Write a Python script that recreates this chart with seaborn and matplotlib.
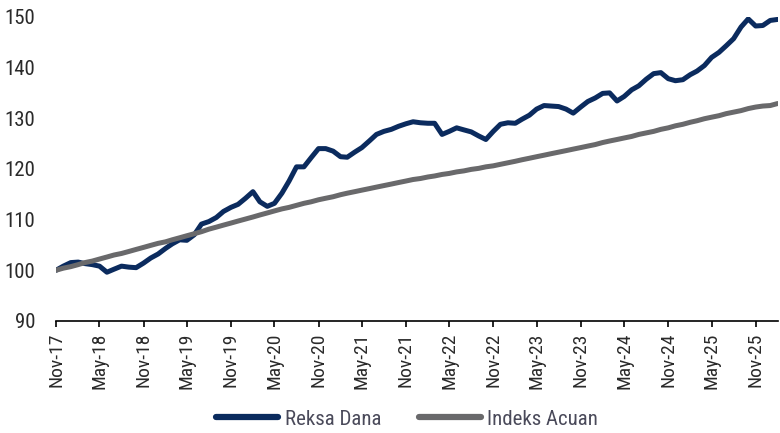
import pandas as pd
import matplotlib.pyplot as plt
import matplotlib.dates as mdates
from matplotlib import font_manager
import seaborn as sns

# data: monthly index values, Nov-17 .. Feb-26
start_month = '2017-11-01'
reksa_dana = [
    100.0, 100.8, 101.5, 101.6, 101.3, 101.1, 100.8, 99.6, 100.2, 100.8,
    100.6, 100.5, 101.4, 102.4, 103.2, 104.3, 105.2, 106.0, 105.9, 107.0,
    109.1, 109.6, 110.4, 111.6, 112.4, 113.0, 114.2, 115.5, 113.5, 112.6,
    113.2, 115.2, 117.6, 120.4, 120.4, 122.2, 124.0, 124.0, 123.5, 122.4,
    122.3, 123.3, 124.2, 125.5, 126.8, 127.4, 127.8, 128.4, 128.9, 129.3,
    129.1, 129.0, 129.0, 126.8, 127.4, 128.1, 127.7, 127.3, 126.5, 125.8,
    127.4, 128.8, 129.1, 129.0, 129.8, 130.6, 131.8, 132.5, 132.4, 132.3,
    131.8, 131.0, 132.2, 133.3, 134.0, 134.9, 135.0, 133.4, 134.3, 135.6,
    136.4, 137.7, 138.8, 139.0, 137.8, 137.4, 137.6, 138.6, 139.3, 140.4,
    142.0, 143.0, 144.3, 145.7, 148.0, 149.6, 148.2, 148.3, 149.3, 149.5,
]
indeks_acuan = [
    100.0, 100.4, 100.7, 101.1, 101.5, 101.8, 102.2, 102.6, 103.0, 103.3,
    103.7, 104.1, 104.5, 104.9, 105.3, 105.6, 106.0, 106.4, 106.8, 107.2,
    107.6, 108.1, 108.5, 108.9, 109.3, 109.7, 110.1, 110.5, 110.9, 111.3,
    111.7, 112.1, 112.4, 112.8, 113.2, 113.5, 113.9, 114.2, 114.5, 114.9,
    115.2, 115.5, 115.8, 116.1, 116.4, 116.7, 117.0, 117.3, 117.6, 117.9,
    118.1, 118.4, 118.6, 118.9, 119.1, 119.4, 119.6, 119.9, 120.1, 120.4,
    120.6, 120.9, 121.2, 121.5, 121.8, 122.1, 122.4, 122.7, 123.0, 123.3,
    123.6, 123.9, 124.2, 124.5, 124.8, 125.2, 125.5, 125.8, 126.1, 126.4,
    126.8, 127.1, 127.4, 127.8, 128.1, 128.5, 128.8, 129.2, 129.5, 129.9,
    130.2, 130.5, 130.9, 131.2, 131.5, 131.9, 132.2, 132.4, 132.5, 132.9,
]
series_names = ['Reksa Dana', 'Indeks Acuan']
series_colors = ['#0b2b5e', '#69696b']
y_ticks = [90, 100, 110, 120, 130, 140, 150]

dates = pd.date_range(start_month, periods=len(reksa_dana), freq='MS')
df = pd.DataFrame({'date': dates, series_names[0]: reksa_dana, series_names[1]: indeks_acuan})
df = df.melt(id_vars='date', var_name='seri', value_name='nilai')

sns.set_style('white')

# narrow font if one is there (reference uses an Arial Narrow look)
fonts = font_manager.fontManager.ttflist
names = {f.name for f in fonts}
family = 'DejaVu Sans'
stretch = 'normal'
for cand in ['Liberation Sans Narrow', 'Arial Narrow', 'Roboto Condensed', 'Open Sans Condensed']:
    if cand in names:
        family = cand
        break
else:
    for cand in ['Roboto', 'Open Sans', 'Liberation Sans', 'DejaVu Sans']:
        cond = [f for f in fonts if f.name == cand and str(f.stretch) in ('condensed', 'semi-condensed', '75', '87.5')]
        if cond:
            family = cand
            stretch = cond[0].stretch
            break
    else:
        family = 'Roboto' if 'Roboto' in names else 'DejaVu Sans'
plt.rcParams['font.family'] = [family, 'DejaVu Sans']
plt.rcParams['font.stretch'] = stretch

fig = plt.figure(figsize=(7.8, 4.33), dpi=100)
ax = fig.add_axes([0.072, 0.259, 0.925, 0.702])

sns.lineplot(data=df, x='date', y='nilai', hue='seri', palette=series_colors,
             linewidth=3.6, ax=ax, legend=False)

ax.set_ylim(90, 150)
ax.set_yticks(y_ticks)
ax.set_xlim(dates[0], dates[-1])
tick_dates = pd.date_range(start_month, '2025-11-01', freq='6MS')
ax.set_xticks(tick_dates)
ax.xaxis.set_major_formatter(mdates.DateFormatter('%b-%y'))
ax.set_xlabel('')
ax.set_ylabel('')

for s in ['top', 'right', 'left']:
    ax.spines[s].set_visible(False)
ax.spines['bottom'].set_color('black')
ax.spines['bottom'].set_linewidth(1.2)

ax.tick_params(axis='y', length=0, pad=15, labelsize=15, labelcolor='#2a2a2a')
ax.tick_params(axis='x', bottom=True, length=4.5, width=1.2, color='black', pad=4,
               labelsize=14, labelcolor='#2a2a2a', labelrotation=90)

handles = [plt.Line2D([], [], color=c, linewidth=4.5) for c in series_colors]
fig.legend(handles, series_names, loc='center', bbox_to_anchor=(0.522, 0.032), ncol=2,
           frameon=False, fontsize=15, handlelength=3.0, handletextpad=0.3,
           columnspacing=1.8, labelcolor='#4a4a5a')

fig.savefig('out.png', dpi=100)
